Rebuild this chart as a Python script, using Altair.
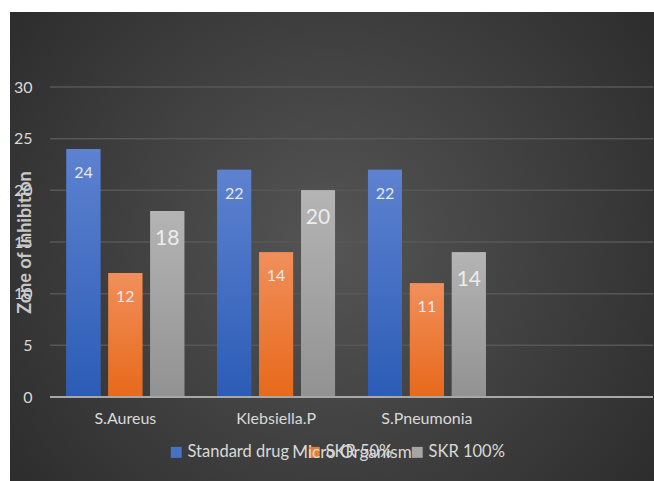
import altair as alt
import pandas as pd

# Zone of inhibition (mm) per micro organism and treatment
organisms = ["S.Aureus", "Klebsiella.P", "S.Pneumonia"]
series = ["Standard drug", "SKR 50%", "SKR 100%"]
standard_drug = [24, 22, 22]
skr_50 = [12, 14, 11]
skr_100 = [18, 20, 14]
y_ticks = [0, 5, 10, 15, 20, 25, 30]

rows = []
for name, vals in zip(series, [standard_drug, skr_50, skr_100]):
    for org, v in zip(organisms, vals):
        rows.append({"organism": org, "series": name, "value": v})
df = pd.DataFrame(rows)

W, H = 603, 310
PAD = {"left": 50, "top": 87, "right": 1, "bottom": 84}

solid = ["#4472c4", "#ed7d31", "#a5a5a5"]
gradients = {
    "Standard drug": ("#5d82d0", "#2c5cb6"),
    "SKR 50%": ("#f18f5a", "#e7691b"),
    "SKR 100%": ("#b4b4b4", "#929292"),
}

y_scale = alt.Scale(domain=[0, 30], nice=False)

x_enc = alt.X(
    "organism:N",
    scale=alt.Scale(domain=organisms + [" "], paddingInner=0.2185, paddingOuter=0.109),
    sort=None,
    axis=alt.Axis(
        title="Micro Organism",
        titleFontSize=17,
        titleFontWeight="normal",
        titleColor="#d9d9d9",
        titleX=W / 2,
        titleY=55,
        titleBaseline="middle",
        labelAngle=0,
        labelFontSize=16,
        labelColor="#d9d9d9",
        labelPadding=13,
        domain=False,
        ticks=False,
        grid=False,
        zindex=1,
    ),
)
xoff_enc = alt.XOffset(
    "series:N", scale=alt.Scale(domain=series, paddingInner=0.19, paddingOuter=0)
)
y_enc = alt.Y(
    "value:Q",
    scale=y_scale,
    axis=alt.Axis(
        title="Zone of Inhibition",
        titleFontSize=18,
        titleFontWeight="bold",
        titleColor="#c8c8c8",
        titleAngle=-90,
        titleX=-25,
        titleY=H / 2,
        titleAlign="center",
        titleBaseline="middle",
        values=y_ticks,
        labelFontSize=16,
        labelColor="#d9d9d9",
        labelPadding=18,
        domain=False,
        ticks=False,
        grid=False,
        zindex=1,
    ),
)

# backdrop with a soft radial glow
backdrop = alt.Chart(pd.DataFrame({"k": [0]})).mark_rect(
    fill={
        "gradient": "radial",
        "x1": 0.5, "y1": 0.5, "r1": 0,
        "x2": 0.5, "y2": 0.5, "r2": 0.72,
        "stops": [
            {"offset": 0, "color": "#555555"},
            {"offset": 1, "color": "#262626"},
        ],
    }
).encode(
    x=alt.value(-40), x2=alt.value(W + PAD["right"]),
    y=alt.value(-75), y2=alt.value(H + PAD["bottom"]),
)

# horizontal gridlines behind the bars
grid = alt.Chart(pd.DataFrame({"v": y_ticks[1:]})).mark_rule(
    color="#575757", strokeWidth=1.5
).encode(y=alt.Y("v:Q", scale=y_scale))

base = alt.Chart(df)

bars = base.mark_bar().encode(
    x=x_enc,
    xOffset=xoff_enc,
    y=y_enc,
    color=alt.Color(
        "series:N",
        scale=alt.Scale(domain=series, range=solid),
        legend=alt.Legend(
            title=None,
            orient="none",
            direction="horizontal",
            legendX=118,
            legendY=357,
            symbolType="square",
            symbolSize=121,
            symbolStrokeWidth=0,
            labelFontSize=16.5,
            labelColor="#d9d9d9",
            labelOffset=3,
            columnPadding=16,
            padding=0,
        ),
    ),
)

shade_layers = []
for name in series:
    top, bottom = gradients[name]
    shade_layers.append(
        base.transform_filter(alt.datum.series == name)
        .mark_bar(
            fill={
                "gradient": "linear",
                "x1": 0, "y1": 0, "x2": 0, "y2": 1,
                "stops": [
                    {"offset": 0, "color": top},
                    {"offset": 1, "color": bottom},
                ],
            }
        )
        .encode(x=x_enc, xOffset=xoff_enc, y=y_enc)
    )

small_labels = base.transform_filter(alt.datum.series != "SKR 100%").mark_text(
    baseline="middle", dy=24, fontSize=16, color="#e6e8ee"
).encode(x=x_enc, xOffset=xoff_enc, y=y_enc, text="value:Q")

big_labels = base.transform_filter(alt.datum.series == "SKR 100%").mark_text(
    baseline="middle", dy=28, fontSize=21, color="#ececec"
).encode(x=x_enc, xOffset=xoff_enc, y=y_enc, text="value:Q")

zero_line = alt.Chart(pd.DataFrame({"v": [0]})).mark_rule(
    color="#a8a8a8", strokeWidth=2
).encode(y=alt.Y("v:Q", scale=y_scale))

chart = (
    alt.layer(backdrop, grid, bars, *shade_layers, zero_line, small_labels, big_labels)
    .properties(width=W, height=H, padding=PAD, autosize=alt.AutoSizeParams(type="none"))
    .configure(background="white", font="Lato")
    .configure_view(stroke=None)
)

chart.save("out.html", embed_options={"renderer": "svg", "actions": False})
